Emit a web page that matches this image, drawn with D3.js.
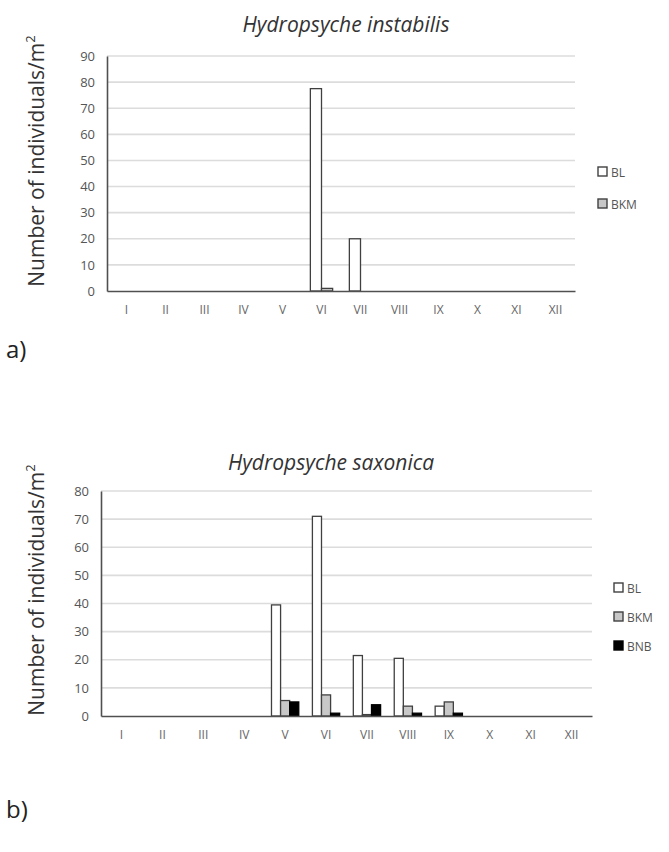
<!DOCTYPE html>
<html><head><meta charset="utf-8">
<script src="https://cdn.jsdelivr.net/npm/d3@7"></script>
<style>body{margin:0;background:#fff} svg{display:block}</style>
</head><body><svg id="c" width="669" height="852"></svg>
<script>
const months = ["I","II","III","IV","V","VI","VII","VIII","IX","X","XI","XII"];
const seriesA = ["BL","BKM"];
const aBL  = [0,0,0,0,0,77.5,20,0,0,0,0,0];
const aBKM = [0,0,0,0,0,1,0,0,0,0,0,0];
const ticksA = [0,10,20,30,40,50,60,70,80,90];
const titleA = "Hydropsyche instabilis";

const seriesB = ["BL","BKM","BNB"];
const bBL  = [0,0,0,0,39.5,71,21.5,20.5,3.5,0,0,0];
const bBKM = [0,0,0,0,5.5,7.5,0.5,3.5,5,0,0,0];
const bBNB = [0,0,0,0,5,1,4,1,1,0,0,0];
const ticksB = [0,10,20,30,40,50,60,70,80];
const titleB = "Hydropsyche saxonica";

const fills = {BL:"#ffffff", BKM:"#c8c8c8", BNB:"#000000"};
const strokes = {BL:"#404040", BKM:"#404040", BNB:"#000000"};
const FONT = "'Open Sans', sans-serif";
const svg = d3.select("#c");

function chart(cfg){
  const {series, values, ticks, title, left, right, top, bottom, tag, tagY, legX, legY, legGap, titleX, titleY, ylabX, ylabY} = cfg;
  const g = svg.append("g");
  const x = d3.scaleBand().domain(months).range([left, right]);
  const y = d3.scaleLinear().domain([0, d3.max(ticks)]).range([bottom, top]);
  const bw = x.bandwidth()/(series.length+1.5);
  const xs = d3.scaleBand().domain(series).range([0, bw*series.length]);
  g.selectAll(".grid").data(ticks.filter(t=>t>0)).join("line")
    .attr("x1", left).attr("x2", right)
    .attr("y1", d=>y(d)).attr("y2", d=>y(d))
    .attr("stroke", "#dcdcdc").attr("stroke-width", 1.6);
  const data = [];
  series.forEach((s,si)=> values[si].forEach((v,i)=>{ if(v>0) data.push({s, m:months[i], v}); }));
  g.selectAll(".bar").data(data).join("rect")
    .attr("x", d=> x(d.m) + (x.bandwidth()-bw*series.length)/2 + xs(d.s))
    .attr("width", bw)
    .attr("y", d=> y(d.v))
    .attr("height", d=> y(0)-y(d.v))
    .attr("fill", d=>fills[d.s]).attr("stroke", d=>strokes[d.s]).attr("stroke-width", 1.3);
  const ya = d3.axisLeft(y).tickValues(ticks).tickSize(0).tickPadding(12);
  const yg = g.append("g").attr("transform", `translate(${left},0)`).call(ya);
  yg.select(".domain").attr("stroke", "#505050").attr("stroke-width", 1.6);
  yg.selectAll("text").attr("font-family", FONT).attr("font-size", 13).attr("fill", "#555");
  const xa = d3.axisBottom(x).tickSize(0).tickPadding(14);
  const xg = g.append("g").attr("transform", `translate(0,${bottom})`).call(xa);
  xg.select(".domain").attr("stroke", "#505050").attr("stroke-width", 1.6);
  xg.selectAll("text").attr("font-family", FONT).attr("font-size", 12).attr("fill", "#666");
  g.append("text").attr("x", titleX).attr("y", titleY).attr("text-anchor","middle")
    .attr("font-family", FONT).attr("font-style","italic").attr("font-size", 21).attr("fill","#333").text(title);
  const yl = g.append("text").attr("transform", `translate(${ylabX},${ylabY}) rotate(-90)`)
    .attr("text-anchor","middle").attr("font-family", FONT).attr("font-size", 21).attr("fill","#333");
  yl.append("tspan").text("Number of individuals/m");
  yl.append("tspan").attr("font-size", 13).attr("dy", -9).text("2");
  const lg = g.append("g").attr("transform", `translate(${legX},${legY})`);
  series.forEach((s,i)=>{
    lg.append("rect").attr("x",0).attr("y", i*legGap-5).attr("width",9).attr("height",9)
      .attr("fill", fills[s]).attr("stroke", strokes[s]).attr("stroke-width",1.4);
    lg.append("text").attr("x", 13).attr("y", i*legGap+5).attr("font-family", FONT).attr("font-size", 12)
      .attr("fill","#555").text(s);
  });
  g.append("text").attr("x", 6).attr("y", tagY).attr("font-family", FONT).attr("font-size", 24).attr("fill","#222").text(tag);
}

chart({series: seriesA, values:[aBL,aBKM], ticks: ticksA, title: titleA,
  left:107, right:575, top:56, bottom:291, tag:"a)", tagY:358, legX:598, legY:172, legGap:32,
  titleX:346, titleY:32, ylabX:44, ylabY:161});
chart({series: seriesB, values:[bBL,bBKM,bBNB], ticks: ticksB, title: titleB,
  left:101, right:592, top:491, bottom:716, tag:"b)", tagY:818, legX:614, legY:588, legGap:29,
  titleX:331, titleY:470, ylabX:44, ylabY:590});
</script></body></html>
